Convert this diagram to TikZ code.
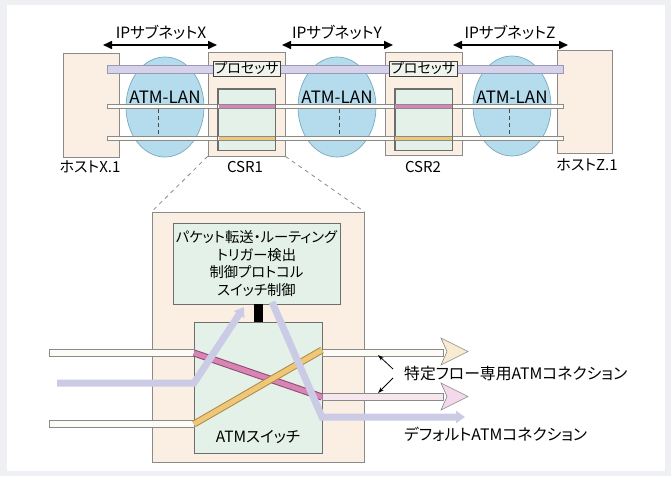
\documentclass[tikz,border=0pt]{standalone}
\usepackage{fontspec}
\setmainfont{Noto Sans CJK JP}[RawFeature={+palt}]
\usetikzlibrary{arrows.meta,shapes.geometric}
\definecolor{bgc}{HTML}{EEF0F3}
\definecolor{peach}{HTML}{FBEFE4}
\definecolor{edge}{HTML}{8A8A8A}
\definecolor{swgreen}{HTML}{E3F1E8}
\definecolor{procfill}{HTML}{EFF5EC}
\definecolor{lanblue}{HTML}{B5DCEC}
\definecolor{lanedge}{HTML}{7AA9BD}
\definecolor{lav}{HTML}{D5D2EA}
\definecolor{lavedge}{HTML}{9A98B8}
\definecolor{barwhite}{HTML}{FDFBF6}
\definecolor{pinkc}{HTML}{D884B4}
\definecolor{pinkedge}{HTML}{8E4A70}
\definecolor{orangec}{HTML}{EFC77A}
\definecolor{orangeedge}{HTML}{B08A40}
\definecolor{lavarrow}{HTML}{CCCBE6}
\definecolor{headyellow}{HTML}{F9EBCF}
\definecolor{headpink}{HTML}{F4D9EA}
\definecolor{barpink}{HTML}{F6E6EE}
\tikzset{
  peachbox/.style={draw=edge, fill=peach, line width=0.7pt, inner sep=0pt, rectangle},
  greenbox/.style={draw=edge!80!black, fill=swgreen, line width=0.7pt, inner sep=0pt, rectangle},
  procbox/.style={draw=black!75, fill=procfill, line width=0.7pt, inner sep=0pt, rectangle, font=\fontsize{14}{16}\selectfont},
  lan/.style={draw=lanedge, fill=lanblue, line width=0.7pt, ellipse, inner sep=0pt, minimum width=78pt, minimum height=100pt},
  whitebar/.style={draw=edge, fill=barwhite, line width=0.6pt},
  lavbar/.style={draw=lavedge, fill=lav, line width=0.6pt},
  lbl/.style={font=\fontsize{14}{16}\selectfont, inner sep=0pt},
  hostlbl/.style={font=\fontsize{15}{17}\selectfont, inner sep=0pt},
  sublbl/.style={font=\fontsize{15.5}{17}\selectfont, inner sep=0pt},
  biglbl/.style={font=\fontsize{15.8}{18}\selectfont, inner sep=0pt},
  lanlbl/.style={font=\fontsize{17}{19}\selectfont, inner sep=0pt},
  subnet/.style={line width=1.6pt, {Triangle[width=8pt,length=9pt]}-{Triangle[width=8pt,length=9pt]}},
  zoomline/.style={draw=edge, dashed, line width=0.8pt, dash pattern=on 4pt off 4pt},
  lavpath/.style={draw=lavarrow, line width=7pt, -{Triangle[width=12pt,length=9pt]}},
  headshape/.style={draw=edge, line width=0.6pt},
  pointer/.style={line width=0.8pt, -{Stealth[length=6pt,width=4pt]}},
}
\begin{document}
\begin{tikzpicture}[x=1pt,y=-1pt]
\useasboundingbox (0,0) rectangle (671,476);
\fill[bgc] (0,0) rectangle (671,476);
\fill[white] (7,5) rectangle (665,471);

% ---------- top: network ----------
\node[peachbox, minimum width=56pt, minimum height=104pt] (hx) at (91,105) {};
\node[peachbox, minimum width=55pt, minimum height=103pt] (hz) at (584.5,101.5) {};
\node[peachbox, minimum width=77pt, minimum height=104pt] (csr1) at (246.5,104) {};
\node[peachbox, minimum width=77pt, minimum height=103pt] (csr2) at (423.5,103.5) {};

\node[lan] (lan1) at (165,107) {};
\node[lan] (lan2) at (337,107) {};
\node[lan] (lan3) at (512,106) {};

\node[greenbox, minimum width=57pt, minimum height=61pt] (sw1) at (246.5,119.5) {};
\node[greenbox, minimum width=57pt, minimum height=61pt] (sw2) at (423.5,119.5) {};

% bars
\draw[lavbar] (107,65) rectangle (563,73);
\draw[whitebar] (107,104) rectangle (563,108.5);
\draw[whitebar] (107,136) rectangle (563,140.5);
% coloured segments inside the switches
\fill[pinkc] (218.5,104.6) rectangle (275,108);
\fill[orangec] (218.5,136.6) rectangle (275,140);
\fill[pinkc] (395,104.6) rectangle (452,108);
\fill[orangec] (395,136.6) rectangle (452,140);
\draw[edge!80!black, line width=0.7pt] (sw1.north west) rectangle (sw1.south east);
\draw[edge!80!black, line width=0.7pt] (sw2.north west) rectangle (sw2.south east);

% dashed lines inside LANs
\draw[black!70, line width=0.8pt, dash pattern=on 4pt off 3pt] (158,109) -- (158,135);
\draw[black!70, line width=0.8pt, dash pattern=on 4pt off 3pt] (339,109) -- (339,135);
\draw[black!70, line width=0.8pt, dash pattern=on 4pt off 3pt] (509,109) -- (509,135);

\node[procbox, minimum width=67pt, minimum height=15pt] (p1) at (246.5,68.5) {プロセッサ};
\node[procbox, minimum width=68pt, minimum height=15pt] (p2) at (423,68.5) {プロセッサ};

\node[lanlbl] at (165,97) {ATM-LAN};
\node[lanlbl] at (337,97) {ATM-LAN};
\node[lanlbl] at (512,97) {ATM-LAN};

\node[hostlbl] at (90,167) {ホストX.1};
\node[hostlbl] at (245,167) {CSR1};
\node[hostlbl] at (423,167) {CSR2};
\node[hostlbl] at (587,165) {ホストZ.1};

% subnets
\node[sublbl] (snx) at (161,32) {IPサブネットX};
\node[sublbl] (sny) at (337,32) {IPサブネットY};
\node[sublbl] (snz) at (510,32) {IPサブネットZ};
\coordinate (ax1) at (103,45); \coordinate (ax2) at (217,45);
\coordinate (ay1) at (282,45); \coordinate (ay2) at (393,45);
\coordinate (az1) at (453,45); \coordinate (az2) at (568,45);
\draw[subnet] (ax1) -- (ax2);
\draw[subnet] (ay1) -- (ay2);
\draw[subnet] (az1) -- (az2);

% ---------- bottom: CSR detail ----------
\node[peachbox, minimum width=212pt, minimum height=250pt] (big) at (258,337) {};
\draw[zoomline] (csr1.south west) -- (big.north west);
\draw[zoomline] (csr1.south east) -- (big.north east);

\node[greenbox, minimum width=167pt, minimum height=81pt, align=center,
      font=\fontsize{14.3}{17.5}\selectfont] (ctl) at (256.5,263.5)
      {パケット転送・ルーティング\\トリガー検出\\制御プロトコル\\スイッチ制御};
\node[fill=black, minimum width=9pt, minimum height=18pt, inner sep=0pt] (conn) at (258,313) {};
\node[greenbox, minimum width=128pt, minimum height=131pt] (atm) at (258,387.5) {};
\node[sublbl] at (258,437) {ATMスイッチ};

% input bars
\draw[whitebar] (49,349.5) rectangle (194,356.5);
\draw[whitebar] (49,420.5) rectangle (194,427.5);
% output bars
\draw[whitebar] (322,349.5) rectangle (443,356.5);
\draw[whitebar, fill=barpink] (322,393.5) rectangle (443,400.5);

% crossing lines
\draw[pinkedge, line width=7pt] (194,353) -- (322,397);
\draw[pinkc, line width=5pt] (194,353) -- (322,397);
\draw[orangeedge, line width=7pt] (194,424) -- (322,350);
\draw[orangec, line width=5pt] (194,424) -- (322,350);

% default path (lavender)
\coordinate (din) at (57,383);
\coordinate (dsw) at (194,383);
\coordinate (dup) at (244,307);
\coordinate (ddown) at (272,302);
\coordinate (dturn) at (322,417);
\coordinate (dout) at (465,417);
\draw[lavpath] (din) -- (dsw) -- (dup);
\draw[lavpath] (ddown) -- (dturn) -- (dout);

% big output heads
\draw[headshape, fill=headyellow] (441,338) -- (468,351.5) -- (441,365) -- (447,351.5) -- cycle;
\draw[headshape, fill=headpink] (441,383) -- (468,396.5) -- (441,410) -- (447,396.5) -- cycle;

% labels and pointers
\node[biglbl, anchor=west] (lspec) at (404,374) {特定フロー専用ATMコネクション};
\node[biglbl, anchor=west] (ldef) at (404,434) {デフォルトATMコネクション};
\coordinate (p1s) at (393,369); \coordinate (p1e) at (378,355);
\coordinate (p2s) at (393,378); \coordinate (p2e) at (378,393);
\draw[pointer] (p1s) -- (p1e);
\draw[pointer] (p2s) -- (p2e);
\end{tikzpicture}
\end{document}
